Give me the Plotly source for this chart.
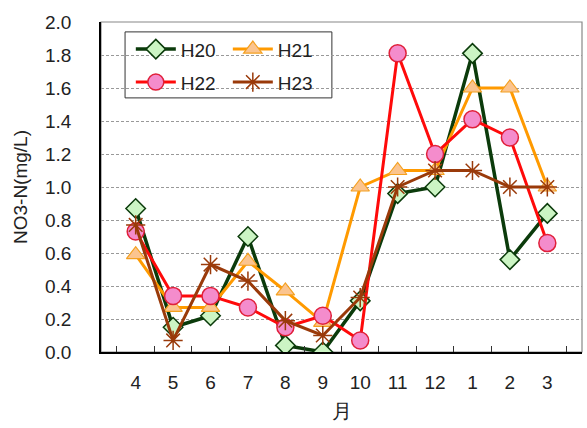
import plotly.graph_objects as go

months = ["4", "5", "6", "7", "8", "9", "10", "11", "12", "1", "2", "3"]
h20 = [0.87, 0.15, 0.22, 0.70, 0.04, 0.00, 0.31, 0.96, 1.00, 1.81, 0.56, 0.84]
h21 = [0.59, 0.27, 0.27, 0.55, 0.37, 0.18, 1.00, 1.10, 1.10, 1.60, 1.60, 1.00]
h22 = [0.73, 0.34, 0.34, 0.27, 0.15, 0.22, 0.07, 1.81, 1.20, 1.41, 1.30, 0.66]
h23 = [0.77, 0.07, 0.53, 0.43, 0.19, 0.10, 0.33, 1.00, 1.10, 1.10, 1.00, 1.00]

FONT = "Liberation Sans, Arial, sans-serif"

fig = go.Figure()
fig.add_trace(go.Scatter(
    x=months, y=h20, name="H20", mode="lines+markers", legend="legend",
    line=dict(color="#0b3b0b", width=3.5),
    marker=dict(symbol="diamond", size=15, color="#ccf5c4",
                line=dict(color="#0b3b0b", width=1.5))))
fig.add_trace(go.Scatter(
    x=months, y=h21, name="H21", mode="lines+markers", legend="legend",
    line=dict(color="#ff9a00", width=3),
    marker=dict(symbol="triangle-up", size=16, color="#fbc48f",
                line=dict(color="#f4a020", width=1.2))))
fig.add_trace(go.Scatter(
    x=months, y=h22, name="H22", mode="lines+markers", legend="legend2",
    line=dict(color="#ff0a0a", width=3),
    marker=dict(symbol="circle", size=17, color="#f48ccc",
                line=dict(color="#e0203a", width=1.5))))
fig.add_trace(go.Scatter(
    x=months, y=h23, name="H23", mode="lines+markers", legend="legend2",
    line=dict(color="#9a3a0a", width=3),
    marker=dict(symbol="asterisk-open", size=16,
                line=dict(color="#9a3a0a", width=1.5))))

fig.update_layout(
    width=587, height=428,
    margin=dict(l=101, r=5, t=22, b=76),
    paper_bgcolor="white", plot_bgcolor="white",
    font=dict(family=FONT, size=18, color="#222222"),
    showlegend=True,
    legend=dict(orientation="h", x=0.062, y=0.975, xanchor="left", yanchor="top",
                bgcolor="rgba(0,0,0,0)", font=dict(size=19), entrywidth=42,
                itemwidth=40, tracegroupgap=0),
    legend2=dict(orientation="h", x=0.062, y=0.875, xanchor="left", yanchor="top",
                 bgcolor="rgba(0,0,0,0)", font=dict(size=19), entrywidth=42,
                 itemwidth=40, tracegroupgap=0),
    xaxis=dict(
        type="category", categoryorder="array", categoryarray=months,
        showline=True, linecolor="black", linewidth=1.5,
        ticks="inside", tickson="boundaries", ticklen=6, tickcolor="#333",
        showgrid=False, zeroline=False,
        tickfont=dict(size=19), ticklabelstandoff=12,
        title=dict(text="月", font=dict(size=20), standoff=12),
    ),
    yaxis=dict(
        range=[0, 2.0], dtick=0.2, tickformat=".1f",
        showline=True, linecolor="black", linewidth=1.5,
        showgrid=True, gridcolor="#999999", griddash="3px,2px", gridwidth=1,
        zeroline=False, ticks="", tickfont=dict(size=19),
        ticklabelstandoff=24,
        title=dict(text="NO3-N(mg/L)", font=dict(size=19), standoff=12),
    ),
    shapes=[
        dict(type="rect", xref="paper", yref="paper", x0=0, x1=1, y0=0, y1=1,
             line=dict(color="#888888", width=1.2), layer="below"),
        dict(type="rect", xref="paper", yref="paper", x0=0.05, x1=0.48,
             y0=0.77, y1=0.97, line=dict(color="#333333", width=1),
             fillcolor="white", layer="below"),
    ],
)

fig.write_html("out.html")
